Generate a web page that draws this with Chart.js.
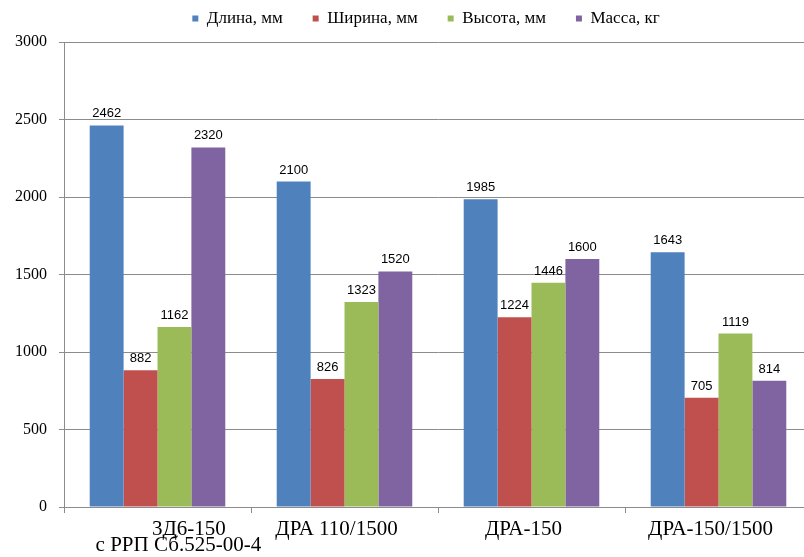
<!DOCTYPE html>
<html lang="ru">
<head>
  <meta charset="UTF-8">
  <title>Габариты и масса</title>
  <script src="https://cdn.jsdelivr.net/npm/chart.js@4.4.0/dist/chart.umd.min.js"></script>
  <style>
    html, body { margin: 0; padding: 0; background: #fff; overflow: hidden; }
    .wrap { width: 814px; height: 577px; margin-top: -20px; position: relative; }
  </style>
</head>
<body>
  <div class="wrap"><canvas id="chart"></canvas></div>
  <script>
    const sp = n => '\u00a0'.repeat(n);
    const categories = [[sp(15) + '3Д6-150', sp(11) + 'с РРП Сб.525-00-4'], 'ДРА 110/1500', 'ДРА-150', 'ДРА-150/1500'];
    const lengthMm = [2462, 2100, 1985, 1643];
    const widthMm  = [882, 826, 1224, 705];
    const heightMm = [1162, 1323, 1446, 1119];
    const massKg   = [2320, 1520, 1600, 814];
    const yTicks   = [0, 500, 1000, 1500, 2000, 2500, 3000];

    const grey = '#8c8c8c';
    const serif = '"Liberation Serif", "Times New Roman", serif';

    // values over the bars
    const valueLabels = {
      id: 'valueLabels',
      afterDatasetsDraw(chart) {
        const ctx = chart.ctx;
        ctx.save();
        ctx.font = '13px "Liberation Sans Narrow", "Liberation Sans", sans-serif';
        ctx.fillStyle = '#000';
        ctx.textAlign = 'center';
        ctx.textBaseline = 'bottom';
        chart.data.datasets.forEach((ds, i) => {
          chart.getDatasetMeta(i).data.forEach((bar, j) => {
            ctx.fillText(ds.data[j], bar.x, bar.y - 5);
          });
        });
        ctx.restore();
      }
    };

    // keep wide gaps between legend items but a shorter legend block,
    // and nudge the row a little to the right as in the original
    const legendHeight = {
      id: 'legendHeight',
      afterInit(chart) {
        const lg = chart.legend;
        const fit = lg.fit.bind(lg);
        lg.fit = function () {
          fit();
          this.height = 62;
          if (this.lineWidths && this.lineWidths.length) this.lineWidths[0] -= 40;
        };
      }
    };

    new Chart(document.getElementById('chart'), {
      type: 'bar',
      data: {
        labels: categories,
        datasets: [
          { label: 'Длина, мм',  data: lengthMm, backgroundColor: '#4F81BD' },
          { label: 'Ширина, мм', data: widthMm,  backgroundColor: '#C0504D' },
          { label: 'Высота, мм', data: heightMm, backgroundColor: '#9BBB59' },
          { label: 'Масса, кг',  data: massKg,   backgroundColor: '#8064A2' }
        ]
      },
      options: {
        responsive: true,
        maintainAspectRatio: false,
        animation: false,
        layout: { padding: { top: 0, right: 2 } },
        datasets: { bar: { categoryPercentage: 0.725, barPercentage: 1 } },
        plugins: {
          legend: {
            position: 'top',
            labels: {
              boxWidth: 6, boxHeight: 6, padding: 30, color: '#000',
              font: { family: serif, size: 17 }
            }
          },
          tooltip: { enabled: false }
        },
        scales: {
          x: {
            grid: { drawOnChartArea: false, color: grey, tickLength: 6, offset: true },
            border: { color: grey },
            ticks: {
              color: '#000', maxRotation: 0, autoSkip: false, padding: 8, labelOffset: -8,
              font: { family: serif, size: 21, lineHeight: 0.78 }
            },
            afterFit(scale) { scale.height = 50; }
          },
          y: {
            min: 0, max: 3000,
            afterBuildTicks(scale) { scale.ticks = yTicks.map(v => ({ value: v })); },
            grid: { color: grey, tickLength: 5 },
            border: { color: grey },
            ticks: {
              color: '#000', padding: 12,
              font: { family: serif, size: 16 },
              callback: v => String(v)
            },
            afterFit(scale) { scale.width = 64; }
          }
        }
      },
      plugins: [valueLabels, legendHeight]
    });
  </script>
</body>
</html>
